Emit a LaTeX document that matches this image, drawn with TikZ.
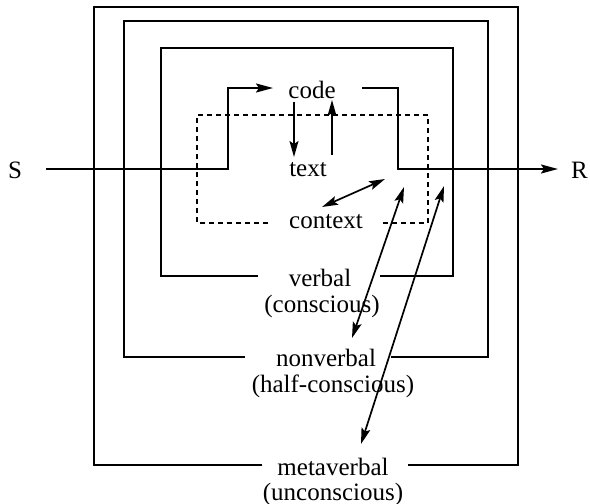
\documentclass[tikz,border=0pt]{standalone}
\usepackage{fontspec}
\setmainfont{Liberation Serif}
\usetikzlibrary{arrows.meta}
\begin{document}
\begin{tikzpicture}[x=1pt,y=-1pt,
 lbl/.style={font=\fontsize{25}{28}\selectfont, inner sep=0pt},
 frame/.style={line width=1.1pt},
 tip/.style={},
 flow/.style={line width=2pt, -{Stealth[length=17pt,width=9pt,inset=3pt]}},
 arr/.style={line width=1.7pt, -{Stealth[length=16pt,width=9pt,inset=3pt]}},
 darr/.style={line width=1.7pt, {Stealth[length=16pt,width=9pt,inset=3pt]}-{Stealth[length=16pt,width=9pt,inset=3pt]}},
 dashbox/.style={line width=2pt, dash pattern=on 5pt off 4pt}]
\useasboundingbox (0,0) rectangle (590,504);
% labels
\node[lbl] (code) at (312,90) {code};
\node[lbl] (text) at (308,170) {text};
\node[lbl] (context) at (326,222) {context};
\node[lbl] (verbal) at (320,278) {verbal};
\node[lbl] (conscious) at (322,306) {(conscious)};
\node[lbl] (nonverbal) at (326,358) {nonverbal};
\node[lbl] (halfc) at (333,386) {(half-conscious)};
\node[lbl] (meta) at (333,467) {metaverbal};
\node[lbl] (uncon) at (333,494) {(unconscious)};
\node[lbl] (S) at (15,170) {S};
\node[lbl,anchor=west] (R) at (571,170) {R};
% frames
\draw[frame] (258,276) -| (161,48) -| (453,276) -- (380,276);
\draw[frame] (245,357) -| (124,21) -| (488,357) -- (391,357);
\draw[frame] (262,465) -| (94,7) -| (518,465) -- (408,465);
% dashed context box
\draw[dashbox] (268,223) -| (197,115) -| (428,223) -- (383,223);
% flow line
\coordinate (sIn) at (46,169);
\coordinate (up1) at (228,88);
\coordinate (codeIn) at (273,88);
\coordinate (codeOut) at (362,88);
\coordinate (down1) at (398,169);
\coordinate (rOut) at (558,169);
\draw[flow] (sIn) -| (up1) -- (codeIn);
\draw[flow] (codeOut) -| (down1) -- (rOut);
% code/text arrows
\coordinate (a1s) at (294,102); \coordinate (a1e) at (294,157);
\coordinate (a2s) at (332,155); \coordinate (a2e) at (332,100);
\draw[arr] (a1s) -- (a1e);
\draw[arr] (a2s) -- (a2e);
% text-context
\coordinate (b1) at (322,207); \coordinate (b2) at (385,179);
\draw[darr] (b1) -- (b2);
% long arrows
\coordinate (c1) at (404,187); \coordinate (c2) at (352,338);
\draw[darr] (c1) -- (c2);
\coordinate (d1) at (444,186); \coordinate (d2) at (361,444);
\draw[darr] (d1) -- (d2);
\end{tikzpicture}
\end{document}
